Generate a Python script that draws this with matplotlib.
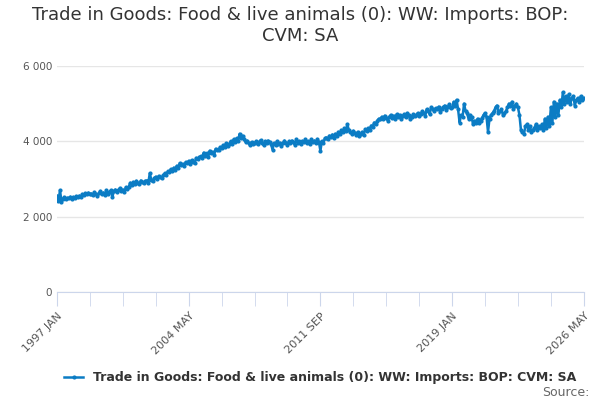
import matplotlib.pyplot as plt
import matplotlib.ticker as mticker

# Valores mensuales estimados del gráfico (1997 ENE - 2026 MAY)
v1997 = [2550, 2420, 2700, 2400, 2480, 2510, 2460, 2500, 2490, 2530, 2480, 2520]
v1998 = [2500, 2540, 2510, 2560, 2520, 2600, 2580, 2620, 2590, 2640, 2600, 2610]
v1999 = [2580, 2650, 2600, 2560, 2620, 2680, 2600, 2640, 2570, 2700, 2610, 2650]
v2000 = [2700, 2520, 2680, 2720, 2650, 2700, 2760, 2680, 2720, 2650, 2780, 2740]
v2001 = [2800, 2900, 2850, 2920, 2880, 2950, 2900, 2870, 2960, 2920, 2890, 2950]
v2002 = [2960, 2900, 3150, 2980, 2940, 3020, 3060, 3000, 3080, 3050, 3020, 3100]
v2003 = [3150, 3100, 3200, 3180, 3260, 3220, 3300, 3250, 3350, 3300, 3420, 3380]
v2004 = [3400, 3350, 3450, 3420, 3480, 3400, 3500, 3460, 3420, 3560, 3520, 3580]
v2005 = [3600, 3550, 3700, 3620, 3680, 3580, 3750, 3680, 3720, 3650, 3800, 3760]
v2006 = [3780, 3850, 3820, 3900, 3860, 3950, 3880, 3920, 4000, 3940, 4050, 3980]
v2007 = [4080, 4000, 4200, 4100, 4150, 4050, 3980, 4020, 3950, 3900, 3980, 3940]
v2008 = [3950, 4000, 3920, 3980, 4030, 3960, 3900, 4000, 3950, 4020, 3980, 3930]
v2009 = [3780, 3950, 3900, 4000, 3920, 3960, 3880, 3950, 4020, 3960, 3900, 4000]
v2010 = [3950, 4020, 3980, 3900, 4050, 3960, 4000, 3920, 4010, 3980, 4050, 3950]
v2011 = [4000, 3920, 4050, 3980, 4020, 3950, 4060, 3980, 3750, 4000, 3960, 4080]
v2012 = [4100, 4050, 4150, 4120, 4180, 4100, 4200, 4150, 4250, 4200, 4300, 4250]
v2013 = [4350, 4280, 4450, 4300, 4250, 4200, 4280, 4220, 4180, 4250, 4150, 4200]
v2014 = [4250, 4180, 4320, 4280, 4350, 4300, 4420, 4380, 4500, 4450, 4550, 4600]
v2015 = [4580, 4650, 4600, 4680, 4620, 4550, 4650, 4700, 4620, 4680, 4600, 4720]
v2016 = [4650, 4700, 4600, 4680, 4720, 4650, 4750, 4700, 4580, 4650, 4720, 4680]
v2017 = [4700, 4750, 4680, 4720, 4800, 4750, 4680, 4850, 4800, 4720, 4900, 4850]
v2018 = [4800, 4880, 4850, 4920, 4780, 4850, 4900, 4950, 4830, 4900, 4980, 4880]
v2019 = [4900, 5050, 4950, 5100, 4850, 4500, 4700, 4650, 5000, 4800, 4750, 4600]
v2020 = [4700, 4650, 4450, 4550, 4500, 4600, 4480, 4550, 4620, 4700, 4750, 4650]
v2021 = [4250, 4600, 4700, 4750, 4800, 4900, 4950, 4750, 4800, 4850, 4700, 4750]
v2022 = [4800, 4900, 5000, 4950, 5050, 4850, 4950, 5000, 4900, 4700, 4300, 4250]
v2023 = [4200, 4400, 4450, 4300, 4400, 4250, 4300, 4350, 4450, 4300, 4400, 4350]
v2024 = [4450, 4300, 4600, 4350, 4650, 4400, 4900, 4500, 5050, 4650, 5000, 4700]
v2025 = [5100, 4900, 5300, 5000, 5200, 5050, 5250, 5000, 5150, 5200, 4950, 5100]
v2026 = [5150, 5050, 5200, 5100, 5150]

valores = (v1997 + v1998 + v1999 + v2000 + v2001 + v2002 + v2003 + v2004 + v2005
           + v2006 + v2007 + v2008 + v2009 + v2010 + v2011 + v2012 + v2013 + v2014
           + v2015 + v2016 + v2017 + v2018 + v2019 + v2020 + v2021 + v2022 + v2023
           + v2024 + v2025 + v2026)
etiquetas = ['1997 JAN', '2004 MAY', '2011 SEP', '2019 JAN', '2026 MAY']
nombre = 'Trade in Goods: Food & live animals (0): WW: Imports: BOP: CVM: SA'

color = '#0b7cc4'
fig = plt.figure(figsize=(6, 4), dpi=100)
ax = fig.add_axes([0.095, 0.27, 0.878, 0.565])
x = list(range(len(valores)))
ax.plot(x, valores, color=color, lw=1.8, marker='o', ms=2)

ax.set_xlim(0, len(valores) - 1)
ax.set_ylim(0, 6000)
ax.set_yticks([0, 2000, 4000, 6000])
ax.yaxis.set_major_formatter(mticker.FuncFormatter(lambda v, p: f'{int(v):,}'.replace(',', ' ')))
ax.set_xticks([0, 88, 176, 264, 352])
ax.set_xticklabels(etiquetas, rotation=45, ha='right', rotation_mode='anchor')
ax.set_xticks(range(0, 353, 22), minor=True)
ax.grid(axis='y', color='#e6e6e6', lw=1)
ax.set_axisbelow(True)
for s in ['top', 'right', 'left']:
    ax.spines[s].set_visible(False)
ax.spines['bottom'].set_color('#ccd6eb')
ax.tick_params(axis='y', length=0, labelsize=7.5, colors='#555555')
ax.tick_params(axis='x', which='both', length=10, color='#ccd6eb', labelsize=8, labelcolor='#555555')

fig.suptitle('Trade in Goods: Food & live animals (0): WW: Imports: BOP:\nCVM: SA',
             fontsize=13, color='#333333', y=0.985)
ax.legend([nombre], loc='upper center', bbox_to_anchor=(0.5, -0.3), frameon=False,
          prop={'size': 9, 'weight': 'bold'}, labelcolor='#333333', handlelength=1.5)
fig.text(0.982, 0.01, 'Source:', ha='right', fontsize=9, color='#666666')
fig.savefig('out.png')
